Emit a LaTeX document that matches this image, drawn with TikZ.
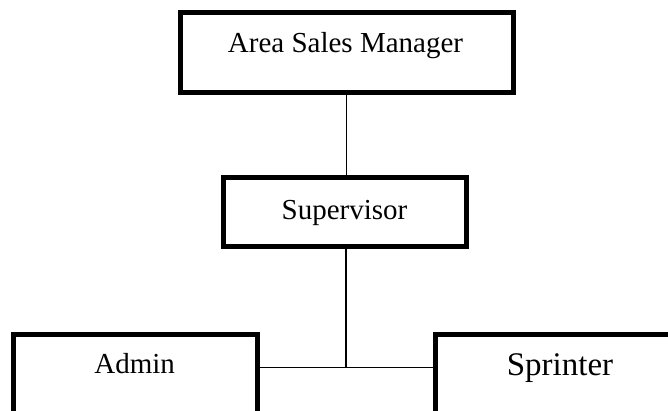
\documentclass[tikz,border=0pt]{standalone}
\usepackage{fontspec}
\setmainfont{Liberation Serif}
\begin{document}
\begin{tikzpicture}[x=1pt,y=-1pt,
  box/.style={draw=black,line width=5pt,rectangle,inner sep=0pt,fill=none},
  lbl/.style={inner sep=0pt,anchor=base,font=\fontsize{29}{34}\selectfont},
  biglbl/.style={inner sep=0pt,anchor=base,font=\fontsize{33}{38}\selectfont},
  conn/.style={draw=black,line width=1.3pt}]
\useasboundingbox (0,0) rectangle (668,410);
\clip (0,0) rectangle (668,410);
\node[box,minimum width=333pt,minimum height=80pt] (asm) at (346.5,52.5) {};
\node[box,minimum width=243pt,minimum height=69pt] (sup) at (344.5,212) {};
\node[box,minimum width=244pt,minimum height=100pt] (adm) at (135,384) {};
\node[box,minimum width=250pt,minimum height=100pt] (spr) at (560,384) {};
\node[lbl] (tasm) at (345.5,52) {Area Sales Manager};
\node[lbl] (tsup) at (344.5,219) {Supervisor};
\node[lbl] (tadm) at (134.7,373) {Admin};
\node[biglbl] (tspr) at (560,375) {Sprinter};
\coordinate (j) at (346,367.5);
\draw[conn] (asm.south) -- (asm.south |- sup.north);
\draw[conn] (sup.south -| j) -- (j);
\draw[conn] (adm.east |- j) -- (spr.west |- j);
\end{tikzpicture}
\end{document}
